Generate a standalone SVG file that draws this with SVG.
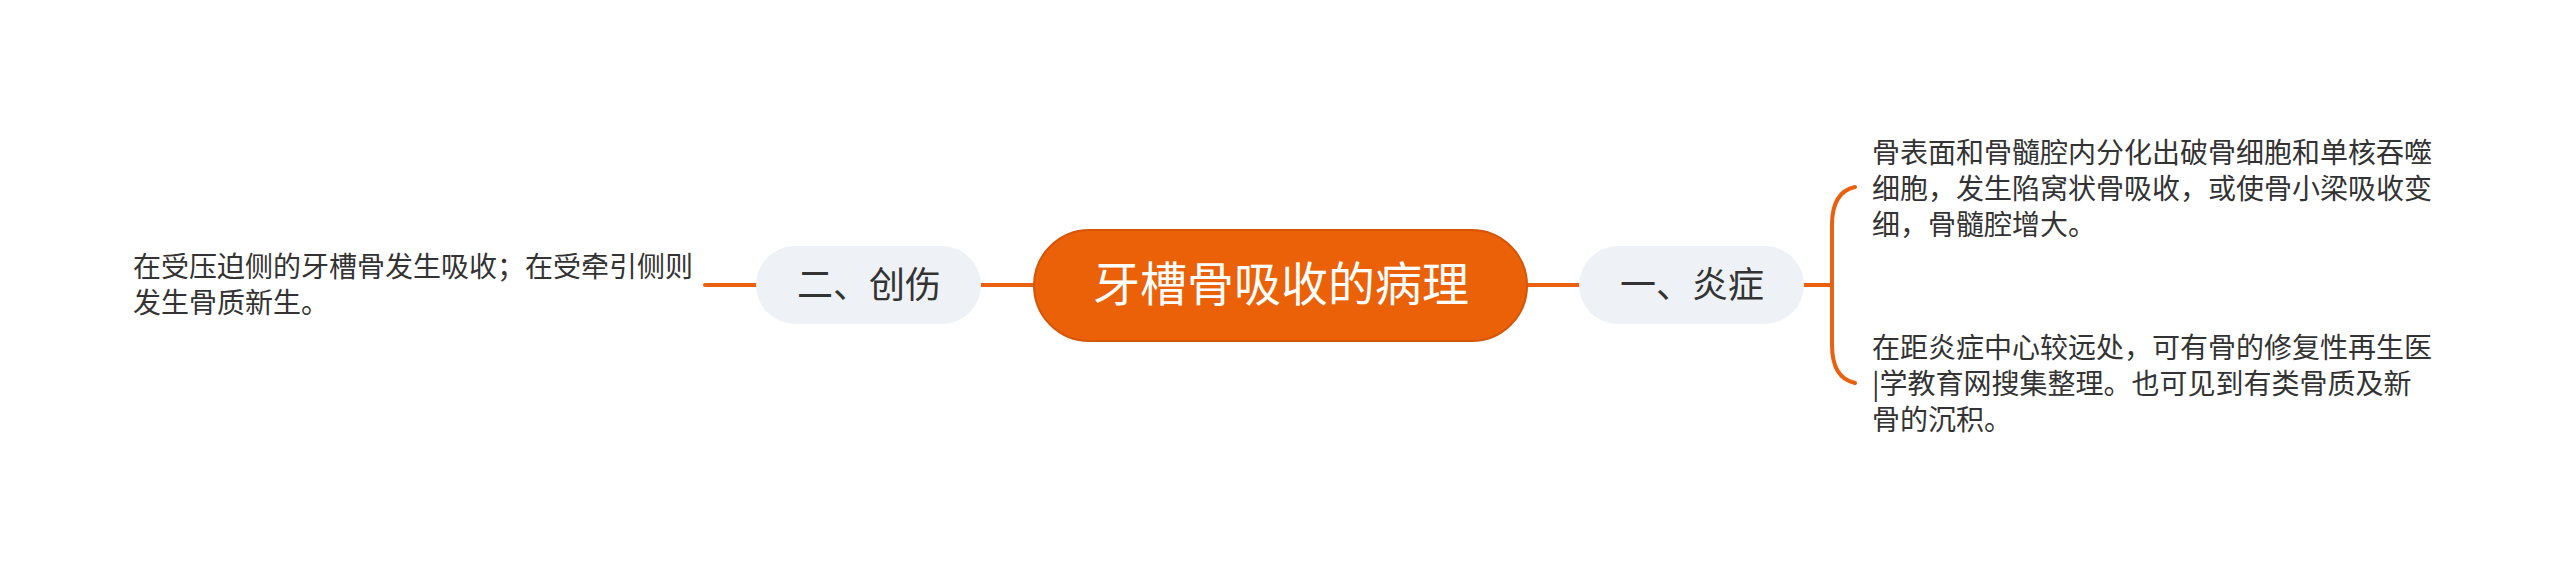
<svg xmlns="http://www.w3.org/2000/svg" width="2560" height="569" viewBox="0 0 2560 569">
<style>
.t{font-family:"Noto Sans CJK SC","Noto Sans",sans-serif;}
.leaf{font-size:28px;fill:#333333;}
.sub{font-size:36px;fill:#333333;text-anchor:middle;}
.root{font-size:47px;fill:#ffffff;text-anchor:middle;}
.con{stroke:#E9600E;stroke-width:4;fill:none;stroke-linecap:round;}
.subbox{fill:#EEF1F5;}
</style>
<rect width="2560" height="569" fill="#ffffff"/>
<g id="connectors">
<line class="con" x1="1527" y1="285" x2="1580" y2="285"/>
<line class="con" x1="980" y1="285" x2="1034" y2="285"/>
<line class="con" x1="705" y1="285" x2="757" y2="285"/>
<line class="con" x1="1804" y1="285" x2="1832" y2="285"/>
<path class="con" d="M1855,187 Q1832,192 1832,225 V345 Q1832,378 1855,383"/>
</g>
<g id="root">
<rect x="1034" y="230" width="493" height="111" rx="55.5" fill="#EB6108" stroke="#D45606" stroke-width="2"/>
<text class="t root" x="1281" y="301">牙槽骨吸收的病理</text>
</g>
<g id="n1">
<rect class="subbox" x="1579" y="246" width="225" height="78" rx="39"/>
<text class="t sub" x="1692" y="298">一、炎症</text>
</g>
<g id="n2">
<rect class="subbox" x="756" y="246" width="225" height="78" rx="39"/>
<text class="t sub" x="869" y="298">二、创伤</text>
</g>
<g id="leaf1">
<text class="t leaf" x="1872"><tspan x="1872" y="163">骨表面和骨髓腔内分化出破骨细胞和单核吞噬</tspan><tspan x="1872" y="199">细胞，发生陷窝状骨吸收，或使骨小梁吸收变</tspan><tspan x="1872" y="235">细，骨髓腔增大。</tspan></text>
</g>
<g id="leaf2">
<text class="t leaf" x="1872"><tspan x="1872" y="358">在距炎症中心较远处，可有骨的修复性再生医</tspan><tspan x="1872" y="394">|学教育网搜集整理。也可见到有类骨质及新</tspan><tspan x="1872" y="430">骨的沉积。</tspan></text>
</g>
<g id="leaf3">
<text class="t leaf" x="133"><tspan x="133" y="277">在受压迫侧的牙槽骨发生吸收；在受牵引侧则</tspan><tspan x="133" y="313">发生骨质新生。</tspan></text>
</g>
</svg>
